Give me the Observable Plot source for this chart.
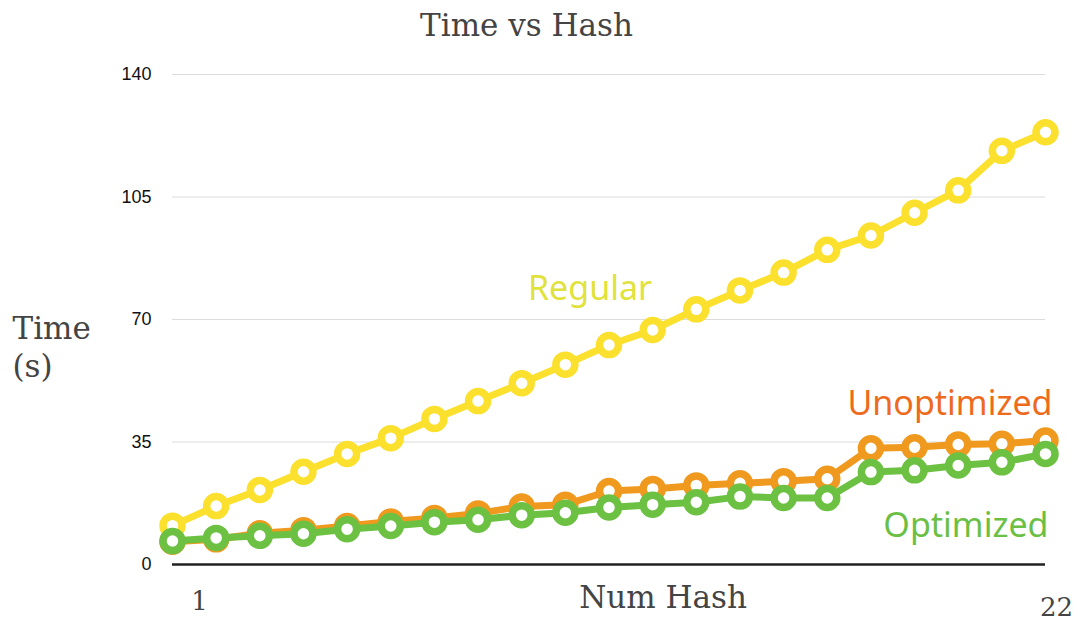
<!DOCTYPE html>
<html>
<head>
<meta charset="utf-8">
<script src="https://cdn.jsdelivr.net/npm/d3@7"></script>
<script src="https://cdn.jsdelivr.net/npm/@observablehq/plot@0.6"></script>
<style>
  html, body { margin: 0; padding: 0; background: #fff; }
</style>
</head>
<body>
<div id="chart"></div>
<script>
const numHash = [1, 2, 3, 4, 5, 6, 7, 8, 9, 10, 11, 12, 13, 14, 15, 16, 17, 18, 19, 20, 21];
const regular = [11.1, 16.7, 21.3, 26.5, 31.6, 36.1, 41.6, 46.7, 51.8, 57.1, 62.7, 67.0, 72.9, 78.3, 83.4, 89.9, 94.0, 100.5, 106.9, 118.2, 123.5];
const unoptimized = [6.5, 7.2, 8.9, 9.8, 11.0, 12.3, 13.3, 14.6, 16.6, 17.1, 21.0, 21.6, 22.6, 23.2, 23.8, 24.5, 33.2, 33.5, 34.3, 34.5, 35.4];
const optimized = [6.7, 7.6, 8.2, 8.8, 10.1, 11.0, 12.1, 12.8, 14.1, 14.8, 16.3, 17.1, 17.8, 19.4, 19.0, 19.0, 26.4, 26.9, 28.3, 29.2, 31.6];
const seriesNames = ["Regular", "Unoptimized", "Optimized"];
const yTicks = [0, 35, 70, 105, 140];
const xTickLabels = ["1", "22"];
const titleText = "Time vs Hash";
const yLabel = "Time\n(s)";
const xLabel = "Num Hash";

const lineColors = {Regular: "#fbe02d", Unoptimized: "#f0991f", Optimized: "#6cc142"};
const labelColors = {Regular: "#e1e23b", Unoptimized: "#ee6a1c", Optimized: "#6abf45"};

const seriesValues = {Regular: regular, Unoptimized: unoptimized, Optimized: optimized};
const rows = seriesNames.map(name => numHash.map((x, i) => ({series: name, x, y: seriesValues[name][i]})));

const serif = "DejaVu Serif";
const labelFont = "Noto Sans";

const seriesMarks = rows.flatMap((data, k) => {
  const name = seriesNames[k];
  return [
    Plot.line(data, {x: "x", y: "y", stroke: lineColors[name], strokeWidth: 7, strokeLinejoin: "round"}),
    Plot.dot(data, {x: "x", y: "y", r: 9.5, fill: "white", stroke: lineColors[name], strokeWidth: 7.5})
  ];
});

const last = numHash.length - 1;

const chart = Plot.plot({
  width: 1081,
  height: 622,
  marginLeft: 172,
  marginRight: 36,
  marginTop: 74,
  marginBottom: 58,
  style: {fontFamily: "Liberation Sans", background: "white", overflow: "visible"},
  x: {domain: [numHash[0], numHash[last]], axis: null},
  y: {domain: [yTicks[0], yTicks[yTicks.length - 1]], axis: null},
  marks: [
    Plot.gridY(yTicks.filter(d => d !== 0), {stroke: "#dcdcdc", strokeOpacity: 1, strokeWidth: 1}),
    Plot.axisY(yTicks, {tickSize: 0, tickPadding: 21, fontSize: 18, fill: "#111", label: null}),
    Plot.ruleY([0], {stroke: "#222", strokeWidth: 2.5}),
    ...seriesMarks,
    Plot.text([titleText], {text: d => d, frameAnchor: "top-left", dx: 354, dy: -48, fontSize: 31, fontFamily: serif, fill: "#444", textAnchor: "middle", lineAnchor: "middle"}),
    Plot.text([yLabel], {text: d => d, frameAnchor: "left", dx: -160, dy: 26, fontSize: 31, lineHeight: 1.23, fontFamily: serif, fill: "#444", textAnchor: "start", lineAnchor: "middle"}),
    Plot.text([xLabel], {text: d => d, frameAnchor: "bottom", dx: 54, dy: 34, fontSize: 31, fontFamily: serif, fill: "#444", textAnchor: "middle", lineAnchor: "middle"}),
    Plot.text([xTickLabels[0]], {text: d => d, frameAnchor: "bottom-left", dx: 27, dy: 37, fontSize: 26, fontFamily: serif, fill: "#444", textAnchor: "middle", lineAnchor: "middle"}),
    Plot.text([xTickLabels[1]], {text: d => d, frameAnchor: "bottom-right", dx: 11, dy: 43, fontSize: 26, fontFamily: serif, fill: "#444", textAnchor: "middle", lineAnchor: "middle"}),
    Plot.text([rows[0][10]], {x: "x", y: "y", text: () => seriesNames[0], dx: -19, dy: -56, fontSize: 34, fontFamily: labelFont, fill: labelColors.Regular, textAnchor: "middle", lineAnchor: "middle"}),
    Plot.text([rows[1][last]], {x: "x", y: "y", text: () => seriesNames[1], dx: 7, dy: -36, fontSize: 34, fontFamily: labelFont, fill: labelColors.Unoptimized, textAnchor: "end", lineAnchor: "middle"}),
    Plot.text([rows[2][last]], {x: "x", y: "y", text: () => seriesNames[2], dx: 3, dy: 72, fontSize: 34, fontFamily: labelFont, fill: labelColors.Optimized, textAnchor: "end", lineAnchor: "middle"})
  ]
});
document.getElementById("chart").appendChild(chart);
</script>
</body>
</html>
